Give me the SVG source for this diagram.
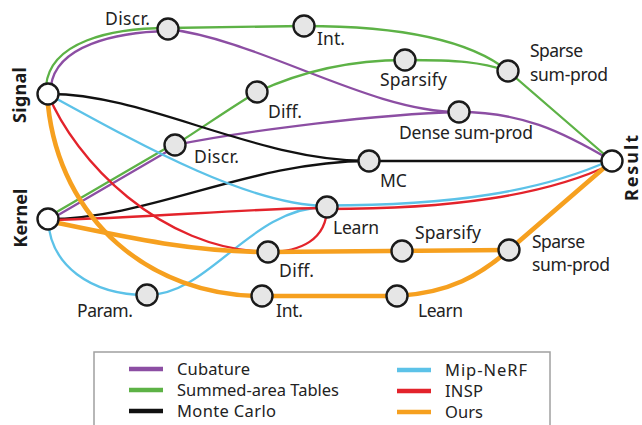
<svg xmlns="http://www.w3.org/2000/svg" width="642" height="425" viewBox="0 0 642 425">
<style>
.e{fill:none;stroke-width:2.3;stroke-linecap:round}
.pu{stroke:#8c4ea3}.gr{stroke:#5db246}.bk{stroke:#111}.bl{stroke:#5cc2e8}.rd{stroke:#e3232b}.or{stroke:#f6a01f;stroke-width:4.6}
.n circle{fill:#e6e6e6;stroke:#1a1a1a;stroke-width:2.4}
.t circle{fill:#fff;stroke:#1a1a1a;stroke-width:2.4}
text{font-family:"Noto Sans","Liberation Sans",sans-serif;font-size:17.5px;fill:#222}
.b{font-weight:bold;font-size:18px;fill:#1a1a1a}
.lg{font-size:16.5px}
.sw{stroke-width:4.5}
</style>
<g id="edges">
<!-- Cubature -->
<path class="e pu" d="M51,86 C56,46 115,32 168,31"/>
<path class="e pu" d="M168,29 C260,40 370,112 459,112"/>
<path class="e pu" d="M459,112 C520,112 560,130 612,161"/>
<path class="e pu" d="M48.8,220.4 L175.8,146.4"/>
<path class="e pu" d="M175,145 C250,130 380,114 459,112"/>
<!-- Summed-area tables -->
<path class="e gr" d="M46,86 C50,42 110,28 168,28"/>
<path class="e gr" d="M168,28 L304,26"/>
<path class="e gr" d="M304,26 C400,26 470,40 508,71"/>
<path class="e gr" d="M508,71 L612,161"/>
<path class="e gr" d="M47.2,217.6 L174.2,143.6"/>
<path class="e gr" d="M175,145 C205,126 230,108 257,92"/>
<path class="e gr" d="M257,92 C300,72 350,60 405,60"/>
<path class="e gr" d="M405,60 C460,60 480,62 508,71"/>
<!-- Monte Carlo -->
<path class="e bk" d="M48,94 C145,93 255,161 369,161"/>
<path class="e bk" d="M48,219 C150,219 250,161 369,161"/>
<path class="e bk" d="M369,161 L612,161"/>
<!-- Mip-NeRF -->
<path class="e bl" d="M48,94 C150,150 250,205 327,206"/>
<path class="e bl" d="M48,219 C50,265 90,295 147,295"/>
<path class="e bl" d="M147,295 C210,295 250,207 327,207"/>
<path class="e bl" d="M327,205.5 C450,205.5 540,192 611,160"/>
<!-- INSP -->
<path class="e rd" d="M48,94 C75,160 160,250 268,252"/>
<path class="e rd" d="M268,252 C300,252 327,240 327,207"/>
<path class="e rd" d="M48,220 C150,218 250,208 327,208"/>
<path class="e rd" d="M327,209 C450,209 545,196 612,164"/>
<!-- Ours -->
<path class="e or" d="M48,105 C60,220 150,296 262,296"/>
<path class="e or" d="M48,221 C120,236 190,252 268,252"/>
<path class="e or" d="M268,252 L509,250"/>
<path class="e or" d="M509,250 L612,161"/>
<path class="e or" d="M262,296 L397,296"/>
<path class="e or" d="M397,296 C450,293 480,275 509,250"/>
</g>
<g id="signal" class="t"><circle cx="48" cy="94" r="10.5"/><text class="b" transform="translate(26,95) rotate(-90)" text-anchor="middle" textLength="56">Signal</text></g>
<g id="kernel" class="t"><circle cx="48" cy="219" r="10.5"/><text class="b" transform="translate(27,218) rotate(-90)" text-anchor="middle" textLength="59">Kernel</text></g>
<g id="result" class="t"><circle cx="612" cy="161" r="10.5"/><text class="b" transform="translate(638,168) rotate(-90)" text-anchor="middle" textLength="66">Result</text></g>
<g id="discr-top" class="n"><circle cx="168" cy="29" r="10.5"/><text x="105" y="25" textLength="45">Discr.</text></g>
<g id="int-top" class="n"><circle cx="304" cy="26" r="10.5"/><text x="317" y="45" textLength="28">Int.</text></g>
<g id="sparsify-top" class="n"><circle cx="405" cy="60" r="10.5"/><text x="380" y="86" textLength="67">Sparsify</text></g>
<g id="sparse-top" class="n"><circle cx="508" cy="71" r="10.5"/><text x="530" y="57" textLength="53">Sparse</text><text x="530" y="81" textLength="78">sum-prod</text></g>
<g id="dense" class="n"><circle cx="459" cy="112" r="10.5"/><text x="399" y="139" textLength="134">Dense sum-prod</text></g>
<g id="diff-green" class="n"><circle cx="257" cy="92" r="10.5"/><text x="268" y="118" textLength="34">Diff.</text></g>
<g id="discr-mid" class="n"><circle cx="175" cy="145" r="10.5"/><text x="194" y="163" textLength="45">Discr.</text></g>
<g id="mc" class="n"><circle cx="369" cy="161" r="10.5"/><text x="380" y="187">MC</text></g>
<g id="learn-mid" class="n"><circle cx="327" cy="207" r="10.5"/><text x="333" y="234" textLength="46">Learn</text></g>
<g id="diff-orange" class="n"><circle cx="268" cy="252" r="10.5"/><text x="279" y="277" textLength="35">Diff.</text></g>
<g id="sparsify-orange" class="n"><circle cx="402" cy="251" r="10.5"/><text x="415" y="239" textLength="66">Sparsify</text></g>
<g id="sparse-bot" class="n"><circle cx="509" cy="250" r="10.5"/><text x="532" y="248" textLength="53">Sparse</text><text x="532" y="271" textLength="78">sum-prod</text></g>
<g id="int-orange" class="n"><circle cx="262" cy="296" r="10.5"/><text x="276" y="317" textLength="27">Int.</text></g>
<g id="learn-bot" class="n"><circle cx="397" cy="296" r="10.5"/><text x="418" y="317" textLength="45">Learn</text></g>
<g id="param" class="n"><circle cx="147" cy="295" r="10.5"/><text x="77" y="317" textLength="56">Param.</text></g>
<g id="legend">
<rect x="94" y="352" width="456" height="90" fill="#fff" stroke="#a0a0a0" stroke-width="1.5"/>
<line class="sw pu" x1="129" y1="369" x2="163" y2="369"/><text class="lg" x="177" y="375" textLength="73">Cubature</text>
<line class="sw gr" x1="129" y1="390" x2="163" y2="390"/><text class="lg" x="177" y="396" textLength="162">Summed-area Tables</text>
<line class="sw bk" x1="129" y1="411" x2="163" y2="411"/><text class="lg" x="177" y="417" textLength="99">Monte Carlo</text>
<line class="sw bl" x1="397" y1="370" x2="431" y2="370"/><text class="lg" x="445" y="376" textLength="82">Mip-NeRF</text>
<line class="sw rd" x1="397" y1="391" x2="431" y2="391"/><text class="lg" x="445" y="397" textLength="38">INSP</text>
<line class="sw" stroke="#f6a01f" x1="397" y1="412" x2="431" y2="412"/><text class="lg" x="445" y="418" textLength="38">Ours</text>
</g>
</svg>
